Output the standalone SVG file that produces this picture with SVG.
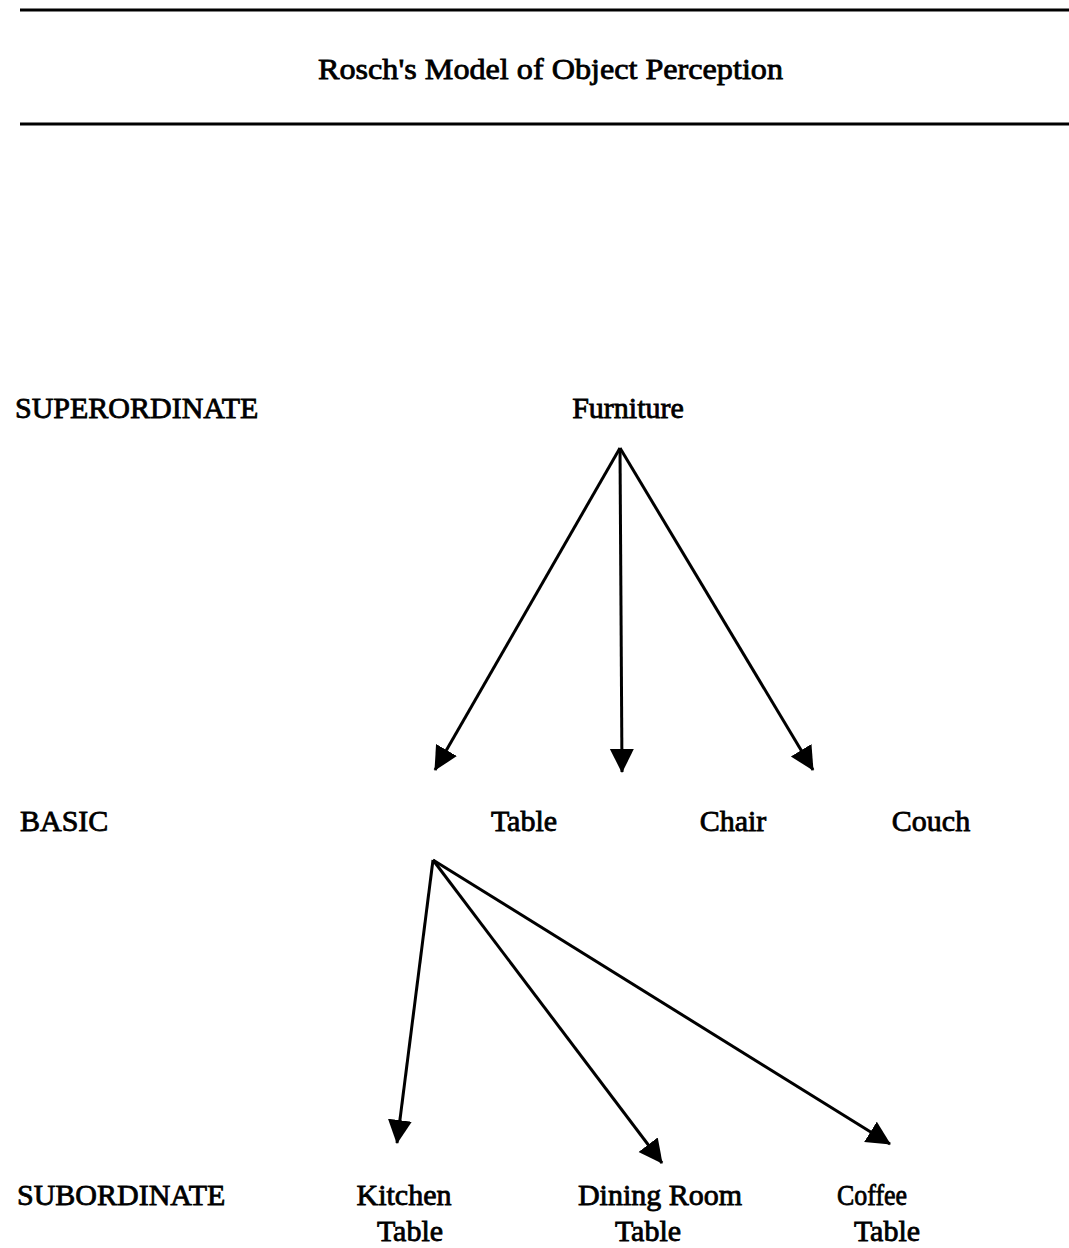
<svg xmlns="http://www.w3.org/2000/svg" width="1069" height="1248" viewBox="0 0 1069 1248">
<style>
text{font-family:"Liberation Serif","Times New Roman",serif;fill:#000;stroke:#000;stroke-width:0.8}
.lbl{font-size:30px}
.c{text-anchor:middle}
.title{font-size:30px}
.rule{stroke:#000;stroke-width:3}
.arr{stroke:#000;stroke-width:3;fill:none;marker-end:url(#ah)}
</style>
<defs>
<marker id="ah" markerUnits="userSpaceOnUse" markerWidth="26" markerHeight="26" refX="23" refY="12" orient="auto" viewBox="0 0 26 26">
<path d="M0,0 L24,12 L0,24 Z" fill="#000"/>
</marker>
</defs>
<g id="header">
<line class="rule" x1="20" y1="10" x2="1069" y2="10"/>
<text class="title" x="318" y="79" textLength="465" lengthAdjust="spacingAndGlyphs">Rosch's Model of Object Perception</text>
<line class="rule" x1="20" y1="124" x2="1069" y2="124"/>
</g>
<g id="level-superordinate"><text class="lbl" x="15" y="418">SUPERORDINATE</text></g>
<g id="level-basic"><text class="lbl" x="20" y="831">BASIC</text></g>
<g id="level-subordinate"><text class="lbl" x="17" y="1205">SUBORDINATE</text></g>
<g id="node-furniture"><text class="lbl c" x="628" y="418">Furniture</text></g>
<g id="node-table"><text class="lbl c" x="524" y="831">Table</text></g>
<g id="node-chair"><text class="lbl c" x="733" y="831">Chair</text></g>
<g id="node-couch"><text class="lbl c" x="931" y="831">Couch</text></g>
<g id="node-kitchen-table"><text class="lbl c" x="404" y="1205">Kitchen</text><text class="lbl c" x="410" y="1241">Table</text></g>
<g id="node-dining-room-table"><text class="lbl c" x="660" y="1205">Dining Room</text><text class="lbl c" x="648" y="1241">Table</text></g>
<g id="node-coffee-table"><text class="lbl c" x="872" y="1205" textLength="70" lengthAdjust="spacingAndGlyphs">Coffee</text><text class="lbl c" x="887" y="1241">Table</text></g>
<g id="connectors">
<line class="arr" x1="620" y1="448" x2="435" y2="770"/>
<line class="arr" x1="620" y1="448" x2="622" y2="772"/>
<line class="arr" x1="620" y1="448" x2="813" y2="770"/>
<line class="arr" x1="433" y1="860" x2="397" y2="1143"/>
<line class="arr" x1="433" y1="860" x2="662" y2="1163"/>
<line class="arr" x1="433" y1="860" x2="890" y2="1144"/>
</g>
</svg>
